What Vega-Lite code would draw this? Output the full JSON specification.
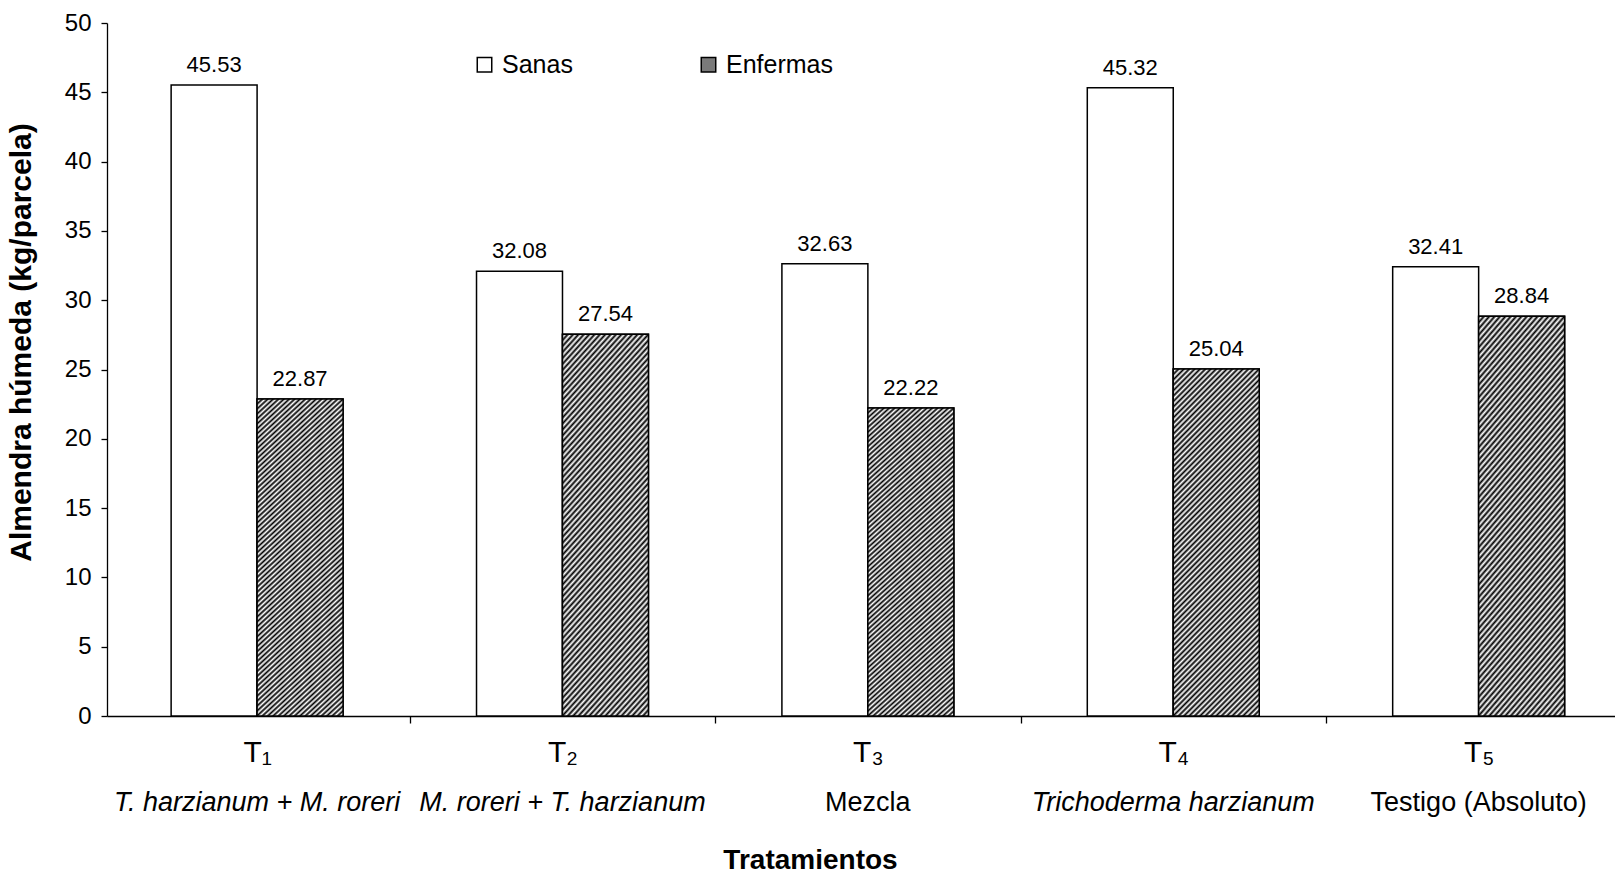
{
"$schema": "https://vega.github.io/schema/vega-lite/v6.json",
"width": 1508,
"height": 693,
"autosize": "none",
"padding": {"left": 107, "top": 23, "right": 0, "bottom": 159},
"background": "white",
"config": {
  "view": {"stroke": null},
  "axis": {"grid": false, "domainColor": "black", "tickColor": "black", "labelColor": "black", "titleColor": "black", "labelFont": "Liberation Sans", "titleFont": "Liberation Sans", "domainWidth": 1.3, "tickWidth": 1.3},
  "axisY": {"labelFontSize": 24, "labelPadding": 10, "tickSize": 6, "tickCount": 10, "titleFontSize": 30, "titleFontWeight": "bold", "titleX": -86, "titleY": 319, "titleAngle": 270, "titleAlign": "center", "titleBaseline": "middle"}
},
"data": {"values": [
  {"t": "T₁", "d": "T. harzianum + M. roreri", "g": "Sanas", "v": 45.53},
  {"t": "T₁", "d": "T. harzianum + M. roreri", "g": "Enfermas", "v": 22.87},
  {"t": "T₂", "d": "M. roreri + T. harzianum", "g": "Sanas", "v": 32.08},
  {"t": "T₂", "d": "M. roreri + T. harzianum", "g": "Enfermas", "v": 27.54},
  {"t": "T₃", "d": "Mezcla", "g": "Sanas", "v": 32.63},
  {"t": "T₃", "d": "Mezcla", "g": "Enfermas", "v": 22.22},
  {"t": "T₄", "d": "Trichoderma harzianum", "g": "Sanas", "v": 45.32},
  {"t": "T₄", "d": "Trichoderma harzianum", "g": "Enfermas", "v": 25.04},
  {"t": "T₅", "d": "Testigo (Absoluto)", "g": "Sanas", "v": 32.41},
  {"t": "T₅", "d": "Testigo (Absoluto)", "g": "Enfermas", "v": 28.84}
]},
"layer": [
  {
    "mark": {"type": "bar", "stroke": "black", "strokeWidth": 1.5},
    "encoding": {
      "x": {"field": "t", "type": "nominal", "sort": null,
        "scale": {"paddingInner": 0.437, "paddingOuter": 0.1875, "align": 0.56},
        "axis": {"title": null, "labelFontSize": 30, "labelPadding": 14, "tickSize": 7, "tickBand": "center", "tickOffset": 152.7, "labelOffset": -152.7, "labelAngle": 0, "labelOverlap": false}},
      "xOffset": {"field": "g", "type": "nominal", "sort": ["Sanas", "Enfermas"], "scale": {"domain": ["Sanas", "Enfermas"], "paddingInner": 0, "paddingOuter": 0}},
      "y": {"field": "v", "type": "quantitative", "title": "Almendra húmeda (kg/parcela)", "scale": {"domain": [0, 50], "nice": false}},
      "fill": {"field": "g", "type": "nominal", "sort": ["Sanas", "Enfermas"],
        "scale": {"domain": ["Sanas", "Enfermas"], "range": ["white", "#7a7a7a"]},
        "legend": {"title": null, "orient": "none", "legendX": 365, "legendY": 29, "direction": "horizontal", "symbolType": "square", "symbolSize": 210, "symbolStrokeColor": "black", "symbolStrokeWidth": 1.5, "symbolOpacity": 1, "labelFontSize": 25, "labelFont": "Liberation Sans", "labelColor": "black", "labelOffset": 5, "columnPadding": 123, "padding": 0}
      }
    }
  },
  {
    "transform": [{"filter": "datum.g === 'Enfermas'"}],
    "mark": {"type": "bar", "stroke": "black", "strokeWidth": 1.5},
    "encoding": {
      "x": {"field": "t", "type": "nominal", "sort": null,
        "scale": {"paddingInner": 0.437, "paddingOuter": 0.1875, "align": 0.56},
        "axis": null},
      "xOffset": {"field": "g", "type": "nominal", "sort": ["Sanas", "Enfermas"], "scale": {"domain": ["Sanas", "Enfermas"], "paddingInner": 0, "paddingOuter": 0}},
      "y": {"field": "v", "type": "quantitative", "title": "Almendra húmeda (kg/parcela)", "scale": {"domain": [0, 50], "nice": false}},
      "fill": {"value": {"gradient": "linear", "x1": 0, "y1": 0, "x2": 0.294, "y2": 1.176, "stops": [
{"offset":0,"color":"#000"},{"offset":0.00625,"color":"#fff"},{"offset":0.0125,"color":"#000"},{"offset":0.01875,"color":"#fff"},{"offset":0.025,"color":"#000"},{"offset":0.03125,"color":"#fff"},{"offset":0.0375,"color":"#000"},{"offset":0.04375,"color":"#fff"},
{"offset":0.05,"color":"#000"},{"offset":0.05625,"color":"#fff"},{"offset":0.0625,"color":"#000"},{"offset":0.06875,"color":"#fff"},{"offset":0.075,"color":"#000"},{"offset":0.08125,"color":"#fff"},{"offset":0.0875,"color":"#000"},{"offset":0.09375,"color":"#fff"},
{"offset":0.1,"color":"#000"},{"offset":0.10625,"color":"#fff"},{"offset":0.1125,"color":"#000"},{"offset":0.11875,"color":"#fff"},{"offset":0.125,"color":"#000"},{"offset":0.13125,"color":"#fff"},{"offset":0.1375,"color":"#000"},{"offset":0.14375,"color":"#fff"},
{"offset":0.15,"color":"#000"},{"offset":0.15625,"color":"#fff"},{"offset":0.1625,"color":"#000"},{"offset":0.16875,"color":"#fff"},{"offset":0.175,"color":"#000"},{"offset":0.18125,"color":"#fff"},{"offset":0.1875,"color":"#000"},{"offset":0.19375,"color":"#fff"},
{"offset":0.2,"color":"#000"},{"offset":0.20625,"color":"#fff"},{"offset":0.2125,"color":"#000"},{"offset":0.21875,"color":"#fff"},{"offset":0.225,"color":"#000"},{"offset":0.23125,"color":"#fff"},{"offset":0.2375,"color":"#000"},{"offset":0.24375,"color":"#fff"},
{"offset":0.25,"color":"#000"},{"offset":0.25625,"color":"#fff"},{"offset":0.2625,"color":"#000"},{"offset":0.26875,"color":"#fff"},{"offset":0.275,"color":"#000"},{"offset":0.28125,"color":"#fff"},{"offset":0.2875,"color":"#000"},{"offset":0.29375,"color":"#fff"},
{"offset":0.3,"color":"#000"},{"offset":0.30625,"color":"#fff"},{"offset":0.3125,"color":"#000"},{"offset":0.31875,"color":"#fff"},{"offset":0.325,"color":"#000"},{"offset":0.33125,"color":"#fff"},{"offset":0.3375,"color":"#000"},{"offset":0.34375,"color":"#fff"},
{"offset":0.35,"color":"#000"},{"offset":0.35625,"color":"#fff"},{"offset":0.3625,"color":"#000"},{"offset":0.36875,"color":"#fff"},{"offset":0.375,"color":"#000"},{"offset":0.38125,"color":"#fff"},{"offset":0.3875,"color":"#000"},{"offset":0.39375,"color":"#fff"},
{"offset":0.4,"color":"#000"},{"offset":0.40625,"color":"#fff"},{"offset":0.4125,"color":"#000"},{"offset":0.41875,"color":"#fff"},{"offset":0.425,"color":"#000"},{"offset":0.43125,"color":"#fff"},{"offset":0.4375,"color":"#000"},{"offset":0.44375,"color":"#fff"},
{"offset":0.45,"color":"#000"},{"offset":0.45625,"color":"#fff"},{"offset":0.4625,"color":"#000"},{"offset":0.46875,"color":"#fff"},{"offset":0.475,"color":"#000"},{"offset":0.48125,"color":"#fff"},{"offset":0.4875,"color":"#000"},{"offset":0.49375,"color":"#fff"},
{"offset":0.5,"color":"#000"},{"offset":0.50625,"color":"#fff"},{"offset":0.5125,"color":"#000"},{"offset":0.51875,"color":"#fff"},{"offset":0.525,"color":"#000"},{"offset":0.53125,"color":"#fff"},{"offset":0.5375,"color":"#000"},{"offset":0.54375,"color":"#fff"},
{"offset":0.55,"color":"#000"},{"offset":0.55625,"color":"#fff"},{"offset":0.5625,"color":"#000"},{"offset":0.56875,"color":"#fff"},{"offset":0.575,"color":"#000"},{"offset":0.58125,"color":"#fff"},{"offset":0.5875,"color":"#000"},{"offset":0.59375,"color":"#fff"},
{"offset":0.6,"color":"#000"},{"offset":0.60625,"color":"#fff"},{"offset":0.6125,"color":"#000"},{"offset":0.61875,"color":"#fff"},{"offset":0.625,"color":"#000"},{"offset":0.63125,"color":"#fff"},{"offset":0.6375,"color":"#000"},{"offset":0.64375,"color":"#fff"},
{"offset":0.65,"color":"#000"},{"offset":0.65625,"color":"#fff"},{"offset":0.6625,"color":"#000"},{"offset":0.66875,"color":"#fff"},{"offset":0.675,"color":"#000"},{"offset":0.68125,"color":"#fff"},{"offset":0.6875,"color":"#000"},{"offset":0.69375,"color":"#fff"},
{"offset":0.7,"color":"#000"},{"offset":0.70625,"color":"#fff"},{"offset":0.7125,"color":"#000"},{"offset":0.71875,"color":"#fff"},{"offset":0.725,"color":"#000"},{"offset":0.73125,"color":"#fff"},{"offset":0.7375,"color":"#000"},{"offset":0.74375,"color":"#fff"},
{"offset":0.75,"color":"#000"},{"offset":0.75625,"color":"#fff"},{"offset":0.7625,"color":"#000"},{"offset":0.76875,"color":"#fff"},{"offset":0.775,"color":"#000"},{"offset":0.78125,"color":"#fff"},{"offset":0.7875,"color":"#000"},{"offset":0.79375,"color":"#fff"},
{"offset":0.8,"color":"#000"},{"offset":0.80625,"color":"#fff"},{"offset":0.8125,"color":"#000"},{"offset":0.81875,"color":"#fff"},{"offset":0.825,"color":"#000"},{"offset":0.83125,"color":"#fff"},{"offset":0.8375,"color":"#000"},{"offset":0.84375,"color":"#fff"},
{"offset":0.85,"color":"#000"},{"offset":0.85625,"color":"#fff"},{"offset":0.8625,"color":"#000"},{"offset":0.86875,"color":"#fff"},{"offset":0.875,"color":"#000"},{"offset":0.88125,"color":"#fff"},{"offset":0.8875,"color":"#000"},{"offset":0.89375,"color":"#fff"},
{"offset":0.9,"color":"#000"},{"offset":0.90625,"color":"#fff"},{"offset":0.9125,"color":"#000"},{"offset":0.91875,"color":"#fff"},{"offset":0.925,"color":"#000"},{"offset":0.93125,"color":"#fff"},{"offset":0.9375,"color":"#000"},{"offset":0.94375,"color":"#fff"},
{"offset":0.95,"color":"#000"},{"offset":0.95625,"color":"#fff"},{"offset":0.9625,"color":"#000"},{"offset":0.96875,"color":"#fff"},{"offset":0.975,"color":"#000"},{"offset":0.98125,"color":"#fff"},{"offset":0.9875,"color":"#000"},{"offset":0.99375,"color":"#fff"},
{"offset":1,"color":"#000"}
      ]}}
    }
  },
  {
    "mark": {"type": "text", "baseline": "alphabetic", "dy": -13, "fontSize": 22, "font": "Liberation Sans", "fill": "black"},
    "encoding": {
      "x": {"field": "d", "type": "nominal", "sort": null,
        "scale": {"paddingInner": 0.437, "paddingOuter": 0.1875, "align": 0.56},
        "axis": {"orient": "bottom", "title": "Tratamientos", "domain": false, "ticks": false, "tickSize": 0, "labelPadding": 73, "labelFontSize": 27, "labelLimit": 400, "labelAngle": 0, "labelOverlap": false,
          "labelFontStyle": {"condition": {"test": "datum.value === 'Mezcla' || datum.value === 'Testigo (Absoluto)'", "value": "normal"}, "value": "italic"},
          "titleFontSize": 28, "titleFontWeight": "bold", "titleX": 703, "titleY": 130, "titleAlign": "center", "titleBaseline": "top"}},
      "xOffset": {"field": "g", "type": "nominal", "sort": ["Sanas", "Enfermas"], "scale": {"domain": ["Sanas", "Enfermas"], "paddingInner": 0, "paddingOuter": 0}},
      "y": {"field": "v", "type": "quantitative", "title": "Almendra húmeda (kg/parcela)", "scale": {"domain": [0, 50], "nice": false}},
      "text": {"field": "v", "type": "quantitative", "format": ".2f"}
    }
  }
],
"resolve": {"scale": {"x": "independent"}, "axis": {"x": "independent"}}
}
